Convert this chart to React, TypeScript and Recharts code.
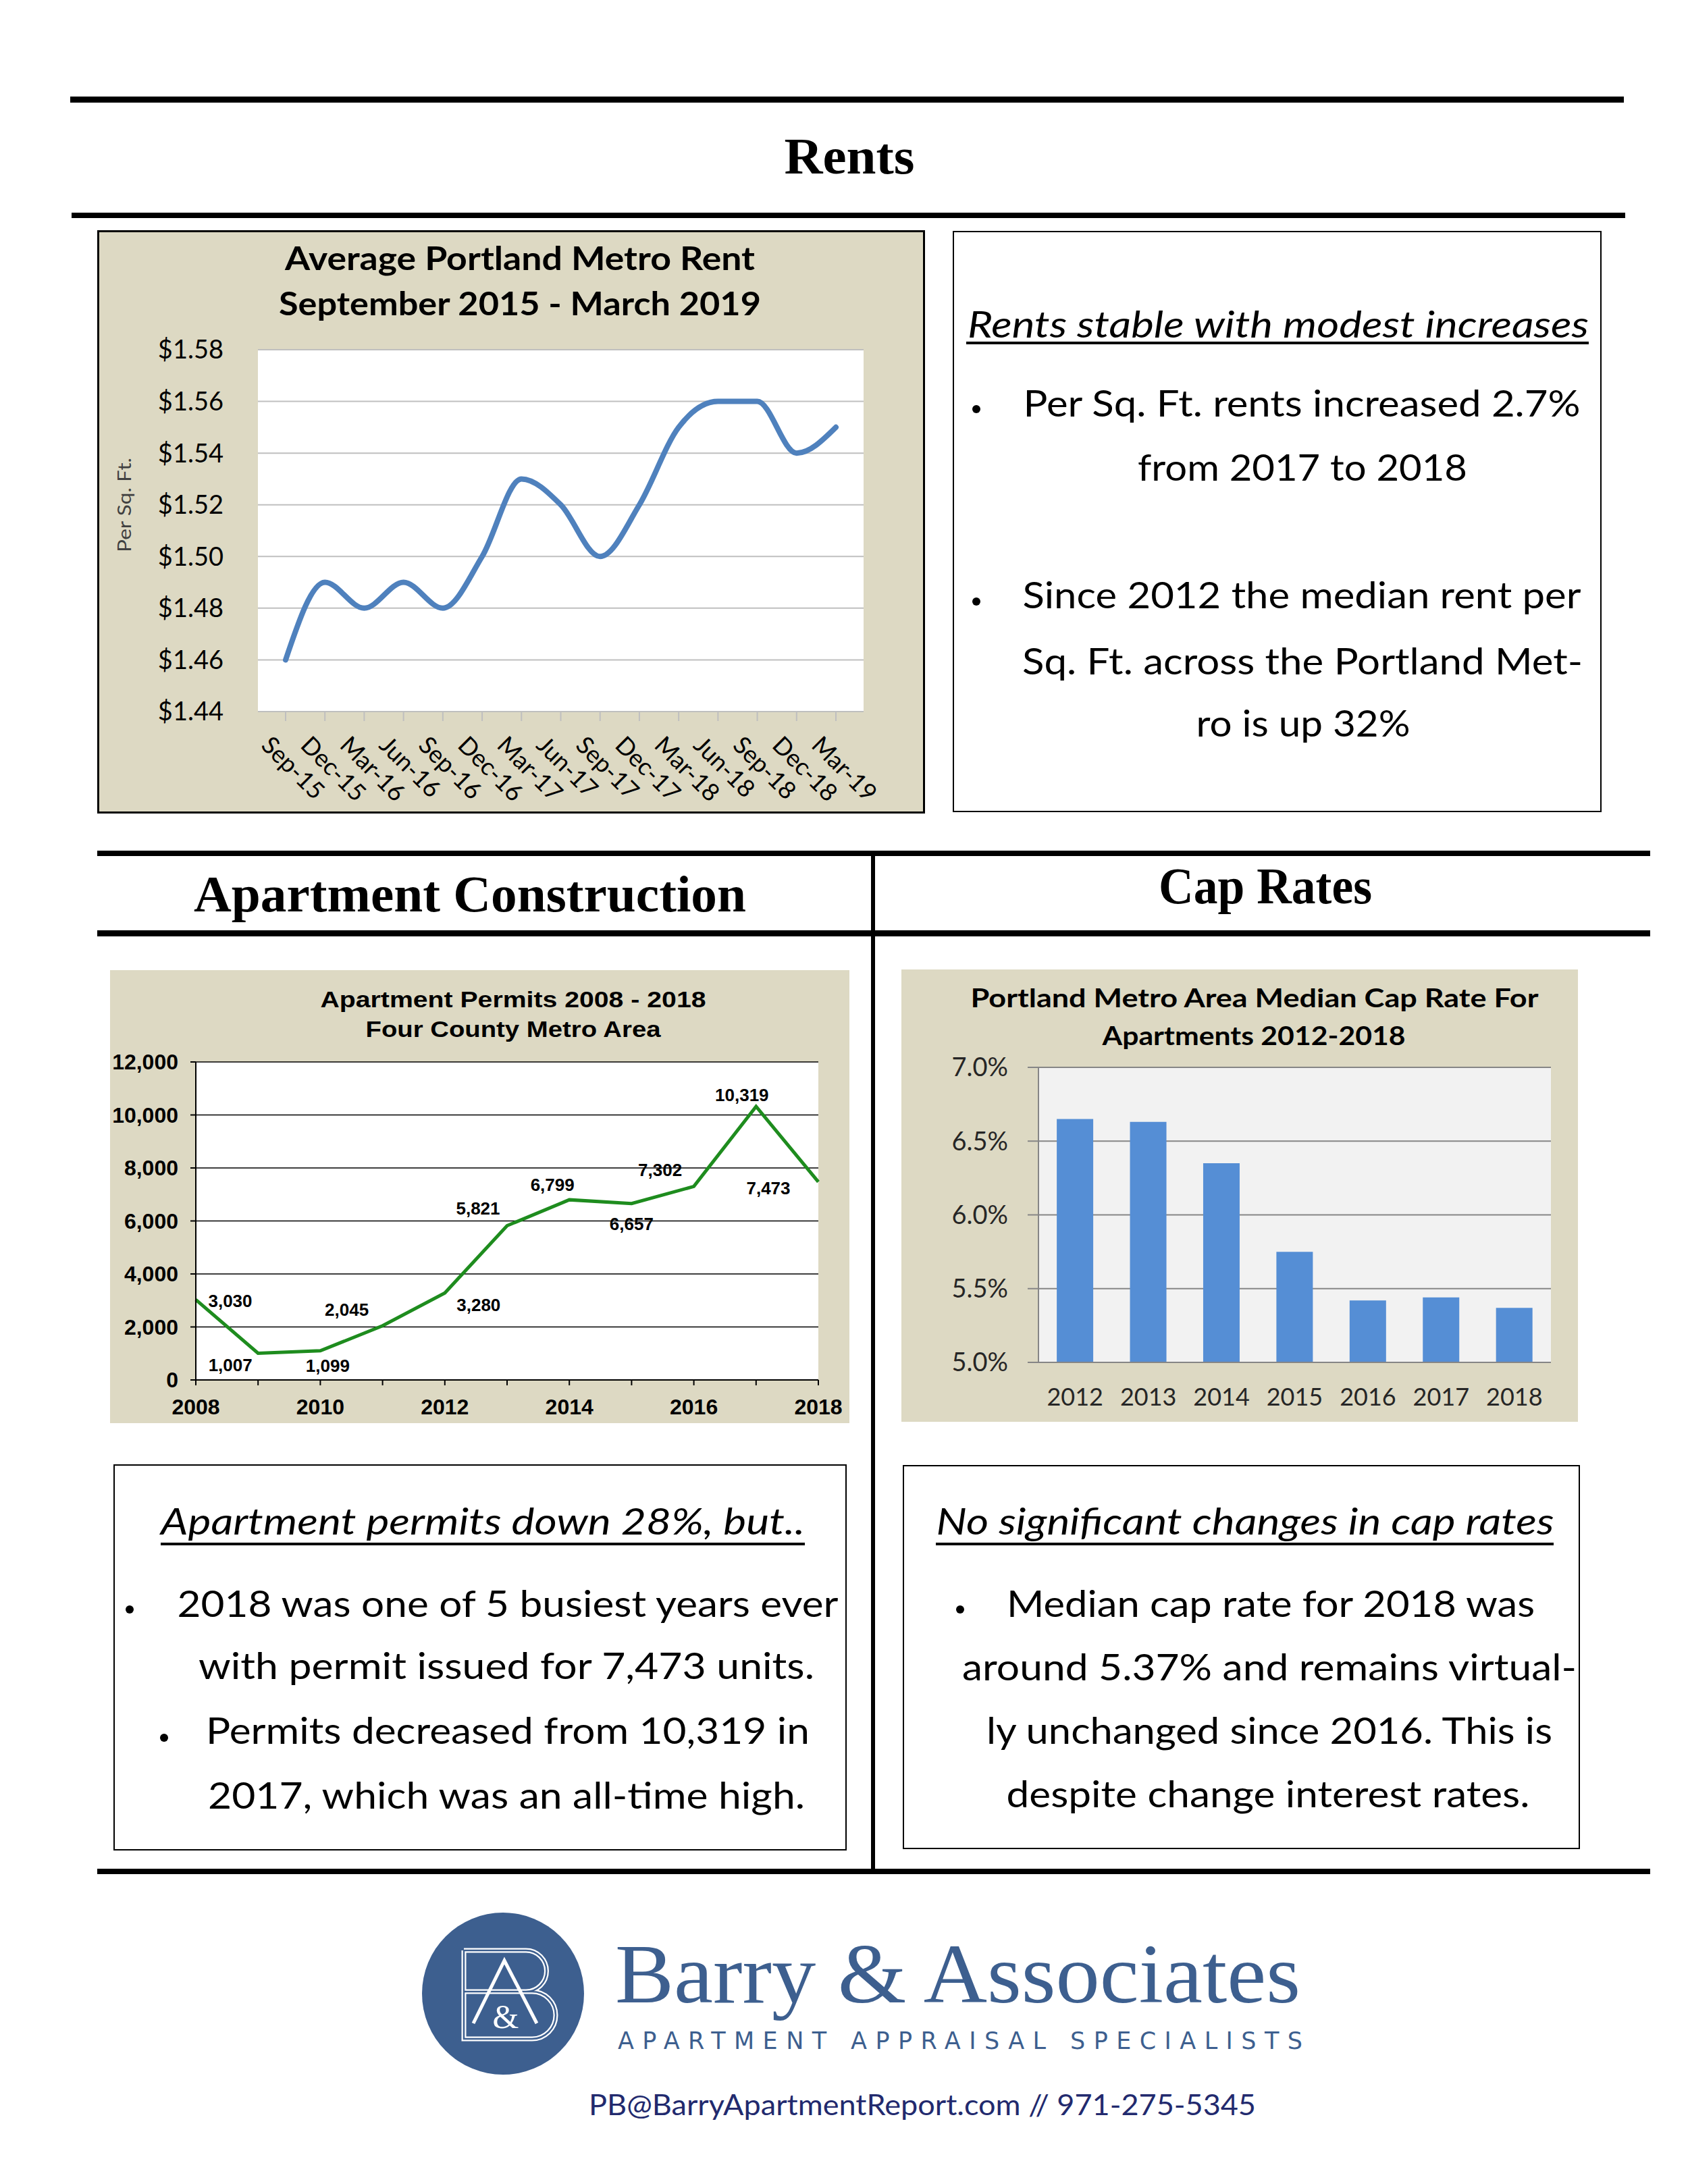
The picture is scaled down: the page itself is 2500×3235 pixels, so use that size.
import React from 'react';
import { LineChart, Line, BarChart, Bar, XAxis, YAxis, CartesianGrid, LabelList } from 'recharts';

// --- Average Portland Metro rent, per sq. ft. ---
const rentPeriods = ['Sep-15', 'Dec-15', 'Mar-16', 'Jun-16', 'Sep-16', 'Dec-16', 'Mar-17', 'Jun-17', 'Sep-17', 'Dec-17', 'Mar-18', 'Jun-18', 'Sep-18', 'Dec-18', 'Mar-19'];
const rentValues = [1.46, 1.49, 1.48, 1.49, 1.48, 1.5, 1.53, 1.52, 1.5, 1.52, 1.55, 1.56, 1.56, 1.54, 1.55];
const rentTicks = [1.44, 1.46, 1.48, 1.5, 1.52, 1.54, 1.56, 1.58];

// --- Apartment permits, four county metro area ---
const permitYears = [2008, 2009, 2010, 2011, 2012, 2013, 2014, 2015, 2016, 2017, 2018];
const permitValues = [3030, 1007, 1099, 2045, 3280, 5821, 6799, 6657, 7302, 10319, 7473];
const permitTicks = [0, 2000, 4000, 6000, 8000, 10000, 12000];
// where each value label sits relative to its point (dx, dy), as placed in the original
const permitLabelNudge = [[51, 2], [-41, 18], [11, 22], [-53, -24], [50, 18], [-43, -26], [-25, -22], [0, 30], [-50, -24], [-21, -17], [-74, 9]];

// --- Median cap rate ---
const capYears = ['2012', '2013', '2014', '2015', '2016', '2017', '2018'];
const capRates = [6.65, 6.63, 6.35, 5.75, 5.42, 5.44, 5.37];
const capTicks = [5, 5.5, 6, 6.5, 7];
const capEdges = [0, 1, 2, 3, 4, 5, 6, 7];

const rentData = rentPeriods.map((period, i) => ({ period, rent: rentValues[i] }));
const permitData = permitYears.map((year, i) => ({ year, permits: permitValues[i] }));
const capData = capYears.map((year, i) => ({ year, rate: capRates[i] }));

const BODY = 'Lato, "Open Sans", sans-serif';
const ARIAL = '"Liberation Sans", Arial, sans-serif';
const SERIF = '"Liberation Serif", "Times New Roman", serif';
const KHAKI = '#ddd9c3';
const LOGO_BLUE = '#3d5f8f';

const RentTick = ({ x, y, payload }: any) => {
  const tx = x - 38;
  return (
    <text x={tx} y={y} transform={`rotate(45 ${tx} ${y})`} textAnchor="start" fontSize={36} fontFamily={BODY} fill="#000">
      {payload.value}
    </text>
  );
};

const PermitLabel = ({ x, y, value, index }: any) => {
  const [dx, dy] = permitLabelNudge[index] || [0, -20];
  return (
    <text x={x + dx} y={y + dy} textAnchor="middle" dominantBaseline="central" fontSize={26} fontWeight={700} fontFamily={ARIAL} fill="#000">
      {Number(value).toLocaleString('en-US')}
    </text>
  );
};

type TProps = {
  x: number; y: number; w?: number; size: number; children: React.ReactNode;
  family?: string; weight?: number; italic?: boolean; fill?: string; adjust?: string;
};
const T = ({ x, y, w, size, children, family = BODY, weight = 400, italic = false, fill = '#000', adjust = 'spacingAndGlyphs' }: TProps) => (
  <text x={x} y={y} textLength={w} lengthAdjust={w ? adjust : undefined} fontSize={size} fontFamily={family}
    fontWeight={weight} fontStyle={italic ? 'italic' : 'normal'} fill={fill} textAnchor="middle">
    {children}
  </text>
);

const Page = () => (
  <svg width={2500} height={3235} style={{ position: 'absolute', left: 0, top: 0 }}>
    <rect x={0} y={0} width={2500} height={3235} fill="#fff" />

    {/* rules */}
    <rect x={104} y={143} width={2301} height={9} fill="#000" />
    <rect x={106} y={315} width={2301} height={8} fill="#000" />
    <rect x={144} y={1260} width={2300} height={8} fill="#000" />
    <rect x={144} y={1378} width={2300} height={9} fill="#000" />
    <rect x={1290} y={1268} width={6} height={1504} fill="#000" />
    <rect x={144} y={2768} width={2300} height={8} fill="#000" />

    {/* section headers */}
    <T x={1258} y={257} w={193} size={76} family={SERIF} weight={700}>Rents</T>
    <T x={696} y={1350} w={818} size={76} family={SERIF} weight={700}>Apartment Construction</T>
    <T x={1874} y={1338} w={316} size={76} family={SERIF} weight={700}>Cap Rates</T>

    {/* chart backgrounds */}
    <rect x={145.5} y={342.5} width={1223} height={861} fill={KHAKI} stroke="#000" strokeWidth={3} />
    <rect x={163} y={1437} width={1095} height={671} fill={KHAKI} />
    <rect x={1335} y={1436} width={1002} height={670} fill={KHAKI} />

    {/* chart titles */}
    <T x={770} y={400} w={696} size={47} weight={700}>Average Portland Metro Rent</T>
    <T x={770} y={467} w={714} size={47} weight={700}>September 2015 - March 2019</T>
    <text x={184} y={748} transform="rotate(-90 184 748)" textAnchor="middle" dominantBaseline="central"
      fontSize={26} fontFamily={BODY} fill="#404040" textLength={140} lengthAdjust="spacingAndGlyphs">Per Sq. Ft.</text>

    <T x={760} y={1492} w={571} size={34} family={ARIAL} weight={700}>Apartment  Permits   2008 - 2018</T>
    <T x={760} y={1536} w={437} size={34} family={ARIAL} weight={700}>Four  County  Metro  Area</T>

    <T x={1858} y={1492} w={841} size={38} weight={700}>Portland Metro Area Median Cap Rate For</T>
    <T x={1857} y={1548} w={449} size={38} weight={700}>Apartments  2012-2018</T>

    {/* rents text box */}
    <rect x={1412} y={343} width={959} height={859} fill="none" stroke="#000" strokeWidth={2} />
    <T x={1893} y={500} w={920} size={54} italic>Rents stable with modest increases</T>
    <rect x={1431} y={506} width={922} height={4} fill="#000" />
    <circle cx={1446} cy={606} r={6} fill="#000" />
    <T x={1928} y={617} w={825} size={54}>Per Sq. Ft. rents increased 2.7%</T>
    <T x={1929} y={712} w={488} size={54}>from 2017 to 2018</T>
    <circle cx={1446} cy={891} r={6} fill="#000" />
    <T x={1928} y={901} w={827} size={54}>Since 2012 the median rent per</T>
    <T x={1929} y={999} w={830} size={54}>Sq. Ft. across the Portland Met-</T>
    <T x={1930} y={1091} w={317} size={54}>ro is up 32%</T>

    {/* permits text box */}
    <rect x={169} y={2170} width={1084} height={570} fill="none" stroke="#000" strokeWidth={2} />
    <T x={715} y={2273} w={954} size={54} italic>Apartment permits down 28%, but..</T>
    <rect x={238} y={2285} width={954} height={4} fill="#000" />
    <circle cx={192} cy={2384} r={6} fill="#000" />
    <T x={752} y={2395} w={979} size={54}>2018 was one of 5 busiest years ever</T>
    <T x={750} y={2487} w={912} size={54}>with permit issued for 7,473 units.</T>
    <circle cx={243} cy={2574} r={6} fill="#000" />
    <T x={752} y={2583} w={894} size={54}>Permits decreased from 10,319 in</T>
    <T x={750} y={2679} w={884} size={54}>2017, which was an all-time high.</T>

    {/* cap rate text box */}
    <rect x={1338} y={2171} width={1001} height={567} fill="none" stroke="#000" strokeWidth={2} />
    <T x={1844} y={2273} w={915} size={54} italic>No significant changes in cap rates</T>
    <rect x={1386} y={2285} width={915} height={4} fill="#000" />
    <circle cx={1422} cy={2384} r={6} fill="#000" />
    <T x={1882} y={2395} w={782} size={54}>Median cap rate for 2018 was</T>
    <T x={1880} y={2489} w={910} size={54}>around 5.37% and remains virtual-</T>
    <T x={1880} y={2583} w={838} size={54}>ly unchanged since 2016. This is</T>
    <T x={1878} y={2677} w={775} size={54}>despite change interest rates.</T>

    {/* logo */}
    <circle cx={745} cy={2953} r={120} fill={LOGO_BLUE} />
    <g fill="none" strokeLinejoin="miter">
      <path d="M687 2889 H779 A30.5 30.5 0 0 1 779 2950 H687 M779 2950 H788 A35 35 0 0 1 788 3020 H687 V2889" stroke="#fff" strokeWidth={7} />
      <path d="M687 2889 H779 A30.5 30.5 0 0 1 779 2950 H687 M779 2950 H788 A35 35 0 0 1 788 3020 H687 V2889" stroke={LOGO_BLUE} strokeWidth={2.5} />
      <path d="M701 2997 L747 2904 L795 2997" stroke="#fff" strokeWidth={5} />
    </g>
    <text x={749} y={3004} textAnchor="middle" fontSize={50} fontFamily={SERIF} fill="#fff">&amp;</text>

    <text x={911} y={2966} fontSize={124} fontFamily={SERIF} fill={LOGO_BLUE} textLength={1015} lengthAdjust="spacingAndGlyphs">Barry &amp; Associates</text>
    <text x={915} y={3035} fontSize={35} fontFamily='"DejaVu Sans", sans-serif' fill={LOGO_BLUE} textLength={1014} lengthAdjust="spacing">APARTMENT APPRAISAL SPECIALISTS</text>
    <text x={872} y={3133} fontSize={42} fontFamily={BODY} fill="#222a6e" textLength={988} lengthAdjust="spacingAndGlyphs">PB@BarryApartmentReport.com // 971-275-5345</text>
  </svg>
);

const RentChart = () => (
  <div style={{ position: 'absolute', left: 147, top: 344 }}>
    <LineChart width={1220} height={858} data={rentData} margin={{ top: 174, right: 88, bottom: 8, left: 135 }}>
      <CartesianGrid vertical={false} stroke="#bfbfbf" strokeWidth={2} fill="#fff" />
      <XAxis dataKey="period" interval={0} padding={{ left: 41, right: 41 }}
        axisLine={{ stroke: '#bfbfbf', strokeWidth: 2 }} tickLine={{ stroke: '#bfbfbf', strokeWidth: 2 }}
        tickSize={14} tickMargin={38} height={140} tick={<RentTick />} />
      <YAxis domain={[1.44, 1.58]} ticks={rentTicks} tickFormatter={(v: number) => `$${v.toFixed(2)}`}
        axisLine={false} tickLine={false} tickSize={0} tickMargin={51} width={100}
        tick={{ fontSize: 38, fontFamily: BODY, fill: '#000' }} />
      <Line type="monotone" dataKey="rent" stroke="#4f81bd" strokeWidth={8} strokeLinecap="round" dot={false} isAnimationActive={false} />
    </LineChart>
  </div>
);

const PermitChart = () => (
  <div style={{ position: 'absolute', left: 163, top: 1437 }}>
    <LineChart width={1095} height={671} data={permitData} margin={{ top: 136, right: 46, bottom: 0, left: 0 }}>
      <CartesianGrid vertical={false} stroke="#000" strokeWidth={1.5} fill="#fff" />
      <XAxis dataKey="year" type="number" domain={[2008, 2018]} ticks={permitYears} interval={0}
        tickFormatter={(v: number) => (v % 2 === 0 ? String(v) : '')}
        axisLine={{ stroke: '#000', strokeWidth: 2 }} tickLine={{ stroke: '#000', strokeWidth: 2 }}
        tickSize={8} tickMargin={20} height={64}
        tick={{ fontSize: 32, fontWeight: 700, fontFamily: ARIAL, fill: '#000' }} />
      <XAxis xAxisId="top" orientation="top" dataKey="year" type="number" domain={[2008, 2018]}
        tick={false} tickLine={false} axisLine={{ stroke: '#4a7ebb', strokeWidth: 2 }} height={0} />
      <YAxis domain={[0, 12000]} ticks={permitTicks} tickFormatter={(v: number) => v.toLocaleString('en-US')}
        axisLine={{ stroke: '#000', strokeWidth: 2 }} tickLine={{ stroke: '#000', strokeWidth: 2 }}
        tickSize={8} tickMargin={18} width={127}
        tick={{ fontSize: 32, fontWeight: 700, fontFamily: ARIAL, fill: '#000' }} />
      <YAxis yAxisId="right" orientation="right" domain={[0, 12000]}
        tick={false} tickLine={false} axisLine={{ stroke: '#4a7ebb', strokeWidth: 2 }} width={0} />
      <Line type="linear" dataKey="permits" stroke="#1e8c1e" strokeWidth={5} dot={false} isAnimationActive={false}>
        <LabelList dataKey="permits" content={PermitLabel} />
      </Line>
    </LineChart>
  </div>
);

const CapChart = () => (
  <div style={{ position: 'absolute', left: 1335, top: 1436 }}>
    <BarChart width={1002} height={670} data={capData} margin={{ top: 145, right: 40, bottom: 0, left: 0 }} barCategoryGap="25%">
      <CartesianGrid vertical={false} stroke="#868686" strokeWidth={2} fill="#f2f2f2" />
      <XAxis xAxisId="edges" type="number" domain={[0, 7]} ticks={capEdges} tick={false} axisLine={false}
        tickLine={{ stroke: '#868686', strokeWidth: 2 }} tickSize={14} height={0} />
      <XAxis dataKey="year" interval={0} tickLine={false} tickSize={0} tickMargin={38}
        axisLine={{ stroke: '#868686', strokeWidth: 2 }} height={88}
        tick={{ fontSize: 36, fontFamily: BODY, fill: '#262626' }} />
      <YAxis domain={[5, 7]} ticks={capTicks} tickFormatter={(v: number) => `${v.toFixed(1)}%`}
        axisLine={{ stroke: '#868686', strokeWidth: 2 }} tickLine={{ stroke: '#868686', strokeWidth: 2 }}
        tickSize={16} tickMargin={29} width={203}
        tick={{ fontSize: 38, fontFamily: BODY, fill: '#262626' }} />
      <Bar dataKey="rate" fill="#558ed5" isAnimationActive={false} />
    </BarChart>
  </div>
);

export default function App() {
  return (
    <div style={{ position: 'absolute', left: 0, top: 0, width: 2500, height: 3235, background: '#fff' }}>
      <Page />
      <RentChart />
      <PermitChart />
      <CapChart />
    </div>
  );
}
